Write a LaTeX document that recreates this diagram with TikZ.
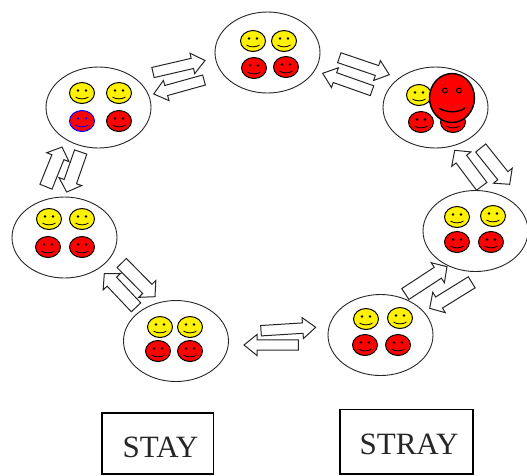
\documentclass[tikz,border=0pt]{standalone}
\usepackage{fontspec}
\setmainfont{Liberation Serif}
\usetikzlibrary{calc,shapes.geometric}

\tikzset{
  state/.style={draw=black!85,line width=0.9pt,shape=ellipse,inner sep=0pt,minimum width=105pt,minimum height=81pt},
  labelbox/.style={draw,line width=1.6pt,inner sep=0pt},
  labeltext/.style={font=\fontsize{31}{31}\selectfont,text=black!85,inner sep=0pt},
  blockarrow/.style n args={3}{draw=black!85,line width=1pt,to path={
    ($(\tikztostart)!#1!90:(\tikztotarget)$)
    -- ($(\tikztotarget)!#2!(\tikztostart)!#1!90:(\tikztotarget)$)
    -- ($(\tikztotarget)!#2!(\tikztostart)!#3!90:(\tikztotarget)$)
    -- (\tikztotarget)
    -- ($(\tikztotarget)!#2!(\tikztostart)!#3!-90:(\tikztotarget)$)
    -- ($(\tikztotarget)!#2!(\tikztostart)!#1!-90:(\tikztotarget)$)
    -- ($(\tikztostart)!#1!-90:(\tikztotarget)$)
    -- cycle}},
  flatarrow/.style={blockarrow={5.2pt}{13pt}{10.5pt}},
  steeparrow/.style={blockarrow={6.5pt}{11pt}{12pt}},
  pics/smiley/.style 2 args={code={
    \draw [draw=#2,fill=#1,line width=1pt] (0,0) ellipse [x radius=12.5,y radius=10.5];
    \fill [#2] (-4,-2.5) circle [radius=1.4];
    \fill [#2] (4,-2.5) circle [radius=1.4];
    \draw [#2,line width=0.8pt] (-6.5,4) .. controls (-3,6.5) and (3,6.5) .. (6.5,4);
  }},
}

\begin{document}
\begin{tikzpicture}[x=1pt,y=-1pt]
\useasboundingbox (0,0) rectangle (527,475);
% states
\node [state] (top) at (267.5,52.5) {};
\node [state] (upleft) at (98.5,107.5) {};
\node [state] (upright) at (435.5,107.5) {};
\node [state] (right) at (475.5,231) {};
\node [state] (left) at (64.5,237.5) {};
\node [state] (bottom) at (176,341) {};
\node [state] (lowright) at (380.5,335) {};
% faces
\pic at (253,41) {smiley={yellow}{black}};
\pic at (284,41) {smiley={yellow}{black}};
\pic at (254,68) {smiley={red}{black}};
\pic at (286,67) {smiley={red}{black}};
\pic at (82,93) {smiley={yellow}{black}};
\pic at (119,93) {smiley={yellow}{black}};
\pic at (82,121) {smiley={red}{blue}};
\pic at (119,121) {smiley={red}{black}};
\pic at (419,95) {smiley={yellow}{black}};
\pic at (421,122) {smiley={red}{black}};
\pic at (453,122) {smiley={red}{black}};
\begin{scope}[shift={(452,98)}]
\draw [fill=red,line width=1.4pt] (0,0) ellipse [x radius=22.5,y radius=24.5];
\draw [line width=1pt] (-7,-7.5) circle [radius=2.5];
\draw [line width=1pt] (7,-7.5) circle [radius=2.5];
\draw [line width=1.4pt] (-13,10) .. controls (-6,15) and (6,15) .. (13,10);
\end{scope}
\pic at (457,217) {smiley={yellow}{black}};
\pic at (493,216) {smiley={yellow}{black}};
\pic at (457,242) {smiley={red}{black}};
\pic at (491,242) {smiley={red}{black}};
\pic at (49,219) {smiley={yellow}{black}};
\pic at (82,219) {smiley={yellow}{black}};
\pic at (48,247) {smiley={red}{black}};
\pic at (82,247) {smiley={red}{black}};
\pic at (160,327) {smiley={yellow}{black}};
\pic at (190,327) {smiley={yellow}{black}};
\pic at (158,351) {smiley={red}{black}};
\pic at (190,351) {smiley={red}{black}};
\pic at (366,319) {smiley={yellow}{black}};
\pic at (400,318) {smiley={yellow}{black}};
\pic at (365,345) {smiley={red}{black}};
\pic at (398,345) {smiley={red}{black}};
% arrow ends
\coordinate (ul2t) at (153,72.5);
\coordinate (t2ul) at (205,60.5);
\coordinate (t4ul) at (204,80);
\coordinate (ul4t) at (153.7,94);
\coordinate (t2ur) at (339.3,57.7);
\coordinate (ur2t) at (389.3,74.7);
\coordinate (ur4t) at (372,90.7);
\coordinate (t4ur) at (322.7,73.3);
\coordinate (r2ur) at (481.7,186.3);
\coordinate (ur2r) at (454.7,150.3);
\coordinate (ur4r) at (480.7,148);
\coordinate (r4ur) at (509.7,184.3);
\coordinate (lr2r) at (405.3,294);
\coordinate (r2lr) at (447,266.7);
\coordinate (r4lr) at (471.7,282.3);
\coordinate (lr4r) at (429.7,308.3);
\coordinate (b2lr) at (261,330.7);
\coordinate (lr2b) at (315.7,327.3);
\coordinate (lr4b) at (298.3,345);
\coordinate (b4lr) at (244,345);
\coordinate (b2l) at (136,307.3);
\coordinate (l2b) at (104.3,273.7);
\coordinate (l4b) at (121.7,263);
\coordinate (b4l) at (155,296.7);
\coordinate (l2ul) at (46,186.7);
\coordinate (ul2l) at (62,147);
\coordinate (ul4l) at (80.7,152);
\coordinate (l4ul) at (66.7,192);
% arrows
\draw [flatarrow] (ul2t) to (t2ul);
\draw [flatarrow] (t4ul) to (ul4t);
\draw [flatarrow] (ur4t) to (t4ur);
\draw [flatarrow] (t2ur) to (ur2t);
\draw [steeparrow] (ur4r) to (r4ur);
\draw [steeparrow] (r2ur) to (ur2r);
\draw [steeparrow] (lr2r) to (r2lr);
\draw [steeparrow] (r4lr) to (lr4r);
\draw [flatarrow] (b2lr) to (lr2b);
\draw [flatarrow] (lr4b) to (b4lr);
\draw [steeparrow] (l4b) to (b4l);
\draw [steeparrow] (b2l) to (l2b);
\draw [steeparrow] (l2ul) to (ul2l);
\draw [steeparrow] (ul4l) to (l4ul);
% labels
\node [labelbox,minimum width=111.6pt,minimum height=61pt,label={[labeltext,xshift=3pt,yshift=-4pt]center:STAY}] (stay) at (157.5,443.5) {};
\node [labelbox,minimum width=133pt,minimum height=64.7pt,label={[labeltext,xshift=2.5pt,yshift=-2.5pt]center:STRAY}] (stray) at (406.5,441.7) {};
\end{tikzpicture}
\end{document}
